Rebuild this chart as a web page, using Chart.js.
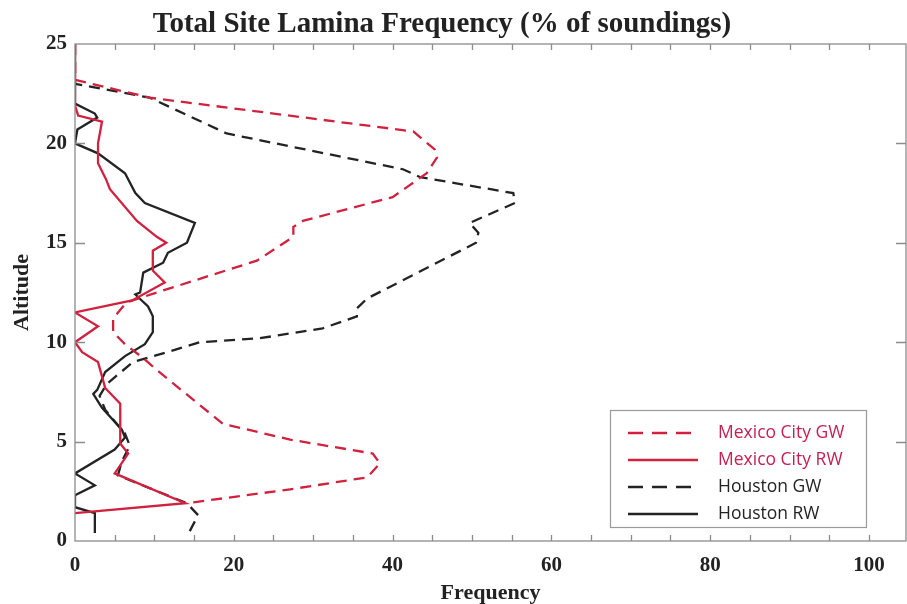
<!DOCTYPE html>
<html>
<head>
<meta charset="utf-8">
<script src="https://cdn.jsdelivr.net/npm/chart.js@4.4.1/dist/chart.umd.min.js"></script>
<style>
  html, body { margin: 0; padding: 0; background: #ffffff; }
  #wrap { width: 907px; height: 604px; }
</style>
</head>
<body>
<div id="wrap"><canvas id="c" width="907" height="604"></canvas></div>
<script>
// Lamina frequency profiles: frequency (% of soundings) against altitude (km)
const mexicoGwAlt  = [25, 23.2, 22.3, 20.6, 19.7, 19.3, 18.5, 17.8, 17.3, 16.1, 15.8, 15.3, 14.1, 12.5, 12.0, 11.2, 10.5, 9.9, 9.2, 8.6, 5.9, 5.1, 4.4, 3.9, 3.2, 2.6, 1.9];
const mexicoGwFreq = [0, 0, 9.4, 42.6, 45.3, 45.6, 44.3, 41.8, 40.0, 28.7, 27.5, 27.5, 22.9, 10.3, 6.5, 4.8, 4.8, 6.3, 8.6, 10.3, 18.6, 27.1, 37.5, 38.4, 36.8, 27.1, 14.1];

const mexicoRwAlt  = [25, 21.9, 21.4, 21.1, 20.0, 19.0, 18.2, 17.7, 16.1, 15.3, 15.0, 14.6, 13.6, 13.0, 12.1, 11.5, 10.8, 10.0, 9.5, 9.0, 7.7, 6.9, 4.9, 4.4, 3.4, 1.9, 1.4];
const mexicoRwFreq = [0, 0, 0.4, 3.4, 2.9, 2.9, 3.9, 4.4, 7.8, 10.3, 11.5, 9.8, 9.8, 11.3, 7.2, 0, 2.9, 0, 0.9, 2.9, 3.8, 5.7, 5.7, 6.7, 5.0, 13.9, 0];

const houstonGwAlt  = [25, 23.0, 22.3, 20.5, 18.7, 18.3, 17.5, 17.0, 16.0, 15.5, 15.0, 12.2, 11.7, 11.3, 10.7, 10.2, 10.0, 9.5, 9.0, 7.9, 7.3, 6.6, 5.4, 4.8, 4.0, 3.3, 1.9, 1.3, 0.3];
const houstonGwFreq = [0, 0, 9.4, 19.1, 41.3, 43.5, 55.2, 55.4, 49.7, 50.8, 50.5, 36.8, 35.5, 35.5, 31.2, 23.3, 15.7, 11.6, 7.3, 4.0, 3.1, 3.8, 6.3, 6.9, 5.9, 5.4, 14.1, 15.5, 14.2];

const houstonRwAlt  = [25, 22.0, 21.5, 21.3, 20.7, 20.0, 19.5, 18.5, 17.5, 17.0, 16.0, 15.0, 14.5, 14.0, 13.5, 12.5, 12.4, 11.8, 11.3, 10.5, 9.9, 9.3, 8.5, 7.6, 7.4, 6.7, 5.6, 5.2, 4.6, 3.4, 2.8, 2.3, 1.7, 1.4, 0.4];
const houstonRwFreq = [0, 0, 2.5, 2.8, 0.3, 0, 2.9, 6.3, 7.6, 8.8, 15.1, 14.1, 11.7, 11.1, 8.6, 8.2, 7.6, 9.2, 9.8, 9.8, 8.8, 6.3, 3.8, 2.8, 2.3, 3.4, 5.9, 6.3, 5.0, 0, 2.5, 0, 0, 2.5, 2.5];

const seriesNames = ['Mexico City GW', 'Mexico City RW', 'Houston GW', 'Houston RW'];
const xTickValues = [0, 20, 40, 60, 80, 100];
const yTickValues = [0, 5, 10, 15, 20, 25];
const chartTitle = 'Total Site Lamina Frequency (% of soundings)';

const RED = '#d0223f';
const RED_TEXT = '#c61f52';
const BLACK = '#232323';
const FRAME = '#8c8c8c';
const SERIF = "'Liberation Serif', 'Times New Roman', serif";

function toPoints(alt, freq) {
  return alt.map((a, i) => ({ x: freq[i], y: a }));
}

function profile(label, alt, freq, color, dashed, textColor) {
  return {
    label,
    data: toPoints(alt, freq),
    borderColor: color,
    backgroundColor: color,
    borderWidth: 2.3,
    borderDash: dashed ? [11, 7] : [],
    pointRadius: 0,
    showLine: true,
    fill: false,
    tension: 0,
    legendDashed: dashed,
    legendTextColor: textColor
  };
}

// Heading drawn over the full figure width
const heading = {
  id: 'heading',
  afterDraw(chart) {
    const { ctx } = chart;
    ctx.save();
    ctx.fillStyle = '#222222';
    ctx.font = `bold 29px ${SERIF}`;
    ctx.textAlign = 'center';
    ctx.textBaseline = 'alphabetic';
    ctx.fillText(chartTitle, 442, 32);
    ctx.restore();
  }
};

// Box frame with inward tick marks on all four sides
const frameTicks = {
  id: 'frameTicks',
  afterDatasetsDraw(chart) {
    const { ctx, chartArea: a, scales: { x, y } } = chart;
    ctx.save();
    ctx.strokeStyle = FRAME;
    ctx.lineWidth = 1.3;
    ctx.setLineDash([]);
    ctx.strokeRect(a.left, a.top, a.right - a.left, a.bottom - a.top);
    ctx.beginPath();
    for (let v = 5; v <= 100; v += 5) {
      const px = Math.round(x.getPixelForValue(v)) + 0.5;
      ctx.moveTo(px, a.bottom); ctx.lineTo(px, a.bottom - 6);
      ctx.moveTo(px, a.top); ctx.lineTo(px, a.top + 6);
    }
    for (let v = 5; v < 25; v += 5) {
      const py = Math.round(y.getPixelForValue(v)) + 0.5;
      ctx.moveTo(a.left, py); ctx.lineTo(a.left + 10, py);
      ctx.moveTo(a.right, py); ctx.lineTo(a.right - 10, py);
    }
    ctx.stroke();
    ctx.restore();
  }
};

// Boxed key in the lower right of the plot
const boxLegend = {
  id: 'boxLegend',
  afterDraw(chart) {
    const { ctx } = chart;
    const box = { left: 610, top: 410, width: 256, height: 117 };
    ctx.save();
    ctx.fillStyle = '#ffffff';
    ctx.fillRect(box.left, box.top, box.width, box.height);
    ctx.strokeStyle = '#9a9a9a';
    ctx.lineWidth = 1.2;
    ctx.strokeRect(box.left + 0.5, box.top + 0.5, box.width, box.height);
    ctx.font = "17.5px 'Open Sans', 'Noto Sans', sans-serif";
    ctx.textBaseline = 'middle';
    chart.data.datasets.forEach((ds, i) => {
      const cy = box.top + 23 + i * 27;
      ctx.strokeStyle = ds.borderColor;
      ctx.lineWidth = 2.6;
      ctx.setLineDash(ds.legendDashed ? [15, 9] : []);
      ctx.beginPath();
      ctx.moveTo(box.left + 18, cy);
      ctx.lineTo(box.left + 88, cy);
      ctx.stroke();
      ctx.setLineDash([]);
      ctx.fillStyle = ds.legendTextColor;
      ctx.fillText(ds.label, box.left + 108, cy);
    });
    ctx.restore();
  }
};

new Chart(document.getElementById('c'), {
  type: 'scatter',
  data: {
    datasets: [
      profile(seriesNames[0], mexicoGwAlt, mexicoGwFreq, RED, true, RED_TEXT),
      profile(seriesNames[1], mexicoRwAlt, mexicoRwFreq, RED, false, RED_TEXT),
      profile(seriesNames[2], houstonGwAlt, houstonGwFreq, BLACK, true, BLACK),
      profile(seriesNames[3], houstonRwAlt, houstonRwFreq, BLACK, false, BLACK)
    ]
  },
  options: {
    responsive: false,
    animation: false,
    devicePixelRatio: 1,
    layout: { padding: { top: 44, right: 1, bottom: 0, left: 0 } },
    plugins: {
      legend: { display: false },
      tooltip: { enabled: false },
      title: { display: false }
    },
    scales: {
      x: {
        type: 'linear',
        min: 0,
        max: 104.66,
        afterBuildTicks: s => { s.ticks = xTickValues.map(v => ({ value: v })); },
        afterFit: s => { s.height = 63; },
        grid: { display: false, drawTicks: false },
        border: { display: false },
        ticks: {
          color: '#222222',
          padding: 12,
          maxRotation: 0,
          autoSkip: false,
          font: { family: SERIF, size: 21, weight: 'bold', lineHeight: 1.2 }
        },
        title: {
          display: true,
          text: 'Frequency',
          color: '#222222',
          font: { family: SERIF, size: 22, weight: 'bold', lineHeight: 1.2 },
          padding: { top: 0, bottom: -3 }
        }
      },
      y: {
        type: 'linear',
        min: 0,
        max: 25,
        afterBuildTicks: s => { s.ticks = yTickValues.map(v => ({ value: v })); },
        afterFit: s => { s.width = 75; },
        grid: { display: false, drawTicks: false },
        border: { display: false },
        ticks: {
          color: '#222222',
          padding: 8,
          autoSkip: false,
          font: { family: SERIF, size: 21, weight: 'bold', lineHeight: 1.2 }
        },
        title: {
          display: true,
          text: 'Altitude',
          color: '#222222',
          font: { family: SERIF, size: 22, weight: 'bold', lineHeight: 1.2 },
          padding: { top: 9, bottom: 0 }
        }
      }
    }
  },
  plugins: [frameTicks, boxLegend, heading]
});
</script>
</body>
</html>
